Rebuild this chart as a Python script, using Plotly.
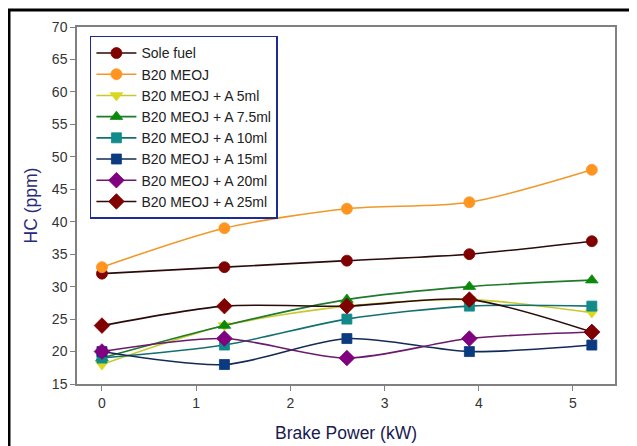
import plotly.graph_objects as go

brake_power = [0, 1.3, 2.6, 3.9, 5.2]
series_names = ["Sole fuel", "B20 MEOJ", "B20 MEOJ + A 5ml", "B20 MEOJ + A 7.5ml",
                "B20 MEOJ + A 10ml", "B20 MEOJ + A 15ml", "B20 MEOJ + A 20ml", "B20 MEOJ + A 25ml"]
sole_fuel = [32, 33, 34, 35, 37]
b20_meoj = [33, 39, 42, 43, 48]
a_5ml = [18, 24, 27, 28, 26]
a_7_5ml = [19, 24, 28, 30, 31]
a_10ml = [19, 21, 25, 27, 27]
a_15ml = [20, 18, 22, 20, 21]
a_20ml = [20, 22, 19, 22, 23]
a_25ml = [24, 27, 27, 28, 23]

values = [sole_fuel, b20_meoj, a_5ml, a_7_5ml, a_10ml, a_15ml, a_20ml, a_25ml]
line_colors = ["#2a0a0a", "#f0982a", "#c8c832", "#1f7a2a", "#147070", "#122a55", "#6a1a6a", "#2a0a0a"]
marker_colors = ["#800000", "#ff9420", "#d8d820", "#0a8a0a", "#108a8a", "#0a3a80", "#800080", "#800000"]
symbols = ["circle", "circle", "triangle-down", "triangle-up", "square", "square", "diamond", "diamond"]
sizes = [11, 11, 11, 11, 10, 10, 12, 12]

fig = go.Figure()
for name, vals, lc, mc, sym, sz in zip(series_names, values, line_colors, marker_colors, symbols, sizes):
    fig.add_trace(go.Scatter(
        x=brake_power, y=vals, name=name, mode="lines+markers",
        line=dict(color=lc, width=1.6, shape="spline", smoothing=0.8),
        marker=dict(symbol=sym, size=sz, color=mc, line=dict(color=mc, width=0.8)),
    ))

fig.update_layout(
    width=629, height=438,
    margin=dict(l=69, r=22, t=19, b=62, autoexpand=False),
    paper_bgcolor="white", plot_bgcolor="white",
    font=dict(family="Liberation Sans, Arial, sans-serif", size=14, color="#333333"),
    showlegend=True,
    legend=dict(x=0.024, y=0.975, xanchor="left", yanchor="top",
                bordercolor="#1f2a99", borderwidth=1.5, bgcolor="white",
                font=dict(size=14, color="#222222"), tracegroupgap=0,
                itemwidth=40),
    xaxis=dict(range=[-0.265, 5.446], tickvals=[0, 1, 2, 3, 4, 5], automargin=False,
               showgrid=False, zeroline=False, showline=True, linecolor="#808080",
               linewidth=1.5, mirror=True, ticks="outside", ticklen=5, tickcolor="#808080",
               tickfont=dict(size=14, color="#333333"),
               title=dict(text="Brake Power (kW)", font=dict(size=17.5, color="#1a1a50"), standoff=17)),
    yaxis=dict(range=[15, 70], tickvals=[15, 20, 25, 30, 35, 40, 45, 50, 55, 60, 65, 70], automargin=False,
               showgrid=False, zeroline=False, showline=True, linecolor="#808080",
               linewidth=1.5, mirror=True, ticks="outside", ticklen=5, tickcolor="#808080",
               tickfont=dict(size=14, color="#333333"),
               title=dict(text="HC (ppm)", font=dict(size=17.5, color="#2a2a7a"), standoff=10)),
    shapes=[dict(type="rect", xref="paper", yref="paper",
                 x0=-0.1264, x1=1.2, y0=-0.3, y1=1.0476,
                 line=dict(color="black", width=3), fillcolor="rgba(0,0,0,0)", layer="below")],
)

fig.write_html("out.html")
